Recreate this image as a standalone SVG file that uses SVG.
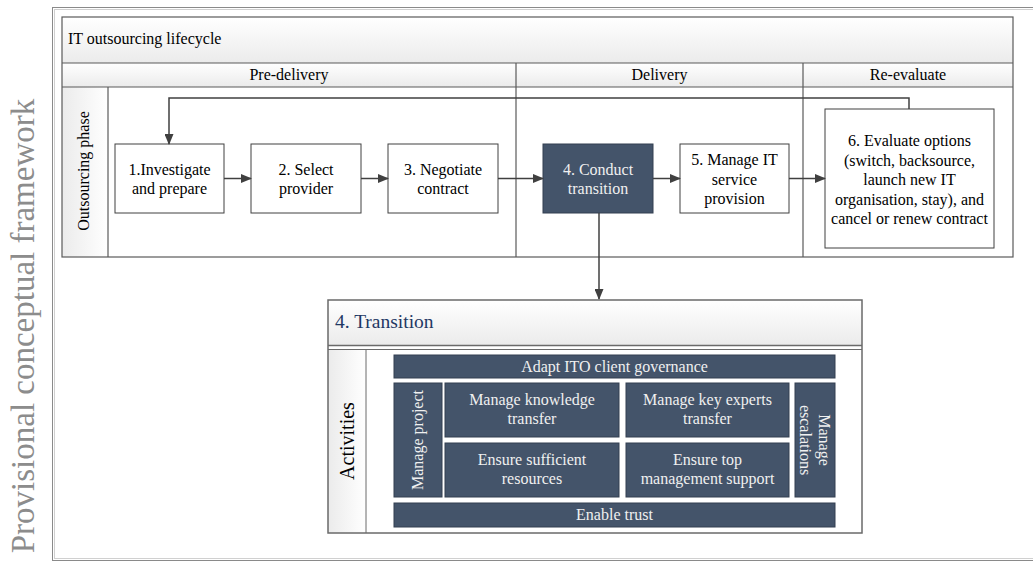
<svg xmlns="http://www.w3.org/2000/svg" width="1033" height="562" viewBox="0 0 1033 562">
<defs>
<linearGradient id="hg" x1="0" y1="0" x2="0" y2="1"><stop offset="0" stop-color="#ffffff"/><stop offset="1" stop-color="#ebebeb"/></linearGradient>
<linearGradient id="vg" x1="0" y1="0" x2="1" y2="0"><stop offset="0" stop-color="#ebebeb"/><stop offset="1" stop-color="#ffffff"/></linearGradient>
<marker id="ah" markerUnits="userSpaceOnUse" markerWidth="11" markerHeight="9" refX="10" refY="4.5" orient="auto"><path d="M0,0 L11,4.5 L0,9 z" fill="#404040"/></marker>
<style>
.t{font-family:"Liberation Serif","Times New Roman",serif;font-size:16px;fill:#000}
.c{text-anchor:middle}
.w{fill:#f0f0f0}
.box{fill:#fff;stroke:#404040;stroke-width:1}
.dk{fill:#44546a;stroke:#333f50;stroke-width:1}
.ln{fill:none;stroke:#5a5a5a;stroke-width:1.2}
.cn{fill:none;stroke:#404040;stroke-width:1.5}
</style>
</defs>
<rect width="1033" height="562" fill="#fff"/>
<g id="frame">
<rect x="52.5" y="7.5" width="1000" height="553" fill="none" stroke="#8a8a8a" stroke-width="1"/>
<rect x="54.5" y="9.5" width="1000" height="549" fill="none" stroke="#d0d0d0" stroke-width="1"/>
<text transform="translate(34,326) rotate(-90)" style="font-family:'Liberation Serif','Times New Roman',serif;font-size:33px;fill:#8c8c8c;text-anchor:middle">Provisional conceptual framework</text>
</g>
<g id="lifecycle">
<rect x="62" y="17" width="951" height="46" fill="url(#hg)"/>
<rect x="62" y="63" width="951" height="24" fill="url(#hg)"/>
<rect x="62" y="87" width="46" height="170" fill="url(#vg)"/>
<rect x="62" y="17" width="951" height="240" class="ln"/>
<line x1="62" y1="63" x2="1013" y2="63" class="ln"/>
<line x1="62" y1="87" x2="1013" y2="87" class="ln"/>
<line x1="108" y1="87" x2="108" y2="257" class="ln"/>
<line x1="516" y1="63" x2="516" y2="257" class="ln"/>
<line x1="803" y1="63" x2="803" y2="257" class="ln"/>
<text class="t" x="68" y="44">IT outsourcing lifecycle</text>
<text class="t c" x="289" y="80">Pre-delivery</text>
<text class="t c" x="659.5" y="80">Delivery</text>
<text class="t c" x="908" y="80">Re-evaluate</text>
<text class="t c" transform="translate(89,171) rotate(-90)">Outsourcing phase</text>
</g>
<g id="n1"><rect x="115" y="144" width="109" height="69" class="box"/><text class="t c" x="169.5" y="174.5">1.Investigate</text><text class="t c" x="169.5" y="193.5">and prepare</text></g>
<g id="n2"><rect x="251" y="144" width="110" height="69" class="box"/><text class="t c" x="306" y="174.5">2. Select</text><text class="t c" x="306" y="193.5">provider</text></g>
<g id="n3"><rect x="388" y="144" width="110" height="69" class="box"/><text class="t c" x="443" y="174.5">3. Negotiate</text><text class="t c" x="443" y="193.5">contract</text></g>
<g id="n4"><rect x="543" y="144" width="110" height="69" class="dk"/><text class="t c w" x="598" y="174.5">4. Conduct</text><text class="t c w" x="598" y="193.5">transition</text></g>
<g id="n5"><rect x="680" y="144" width="109" height="69" class="box"/><text class="t c" x="734.5" y="165">5. Manage IT</text><text class="t c" x="734.5" y="184.5">service</text><text class="t c" x="734.5" y="204">provision</text></g>
<g id="n6"><rect x="825" y="109" width="169" height="139" class="box"/><text class="t c" x="909.5" y="146">6. Evaluate options</text><text class="t c" x="909.5" y="165.5">(switch, backsource,</text><text class="t c" x="909.5" y="185">launch new IT</text><text class="t c" x="909.5" y="204.5">organisation, stay), and</text><text class="t c" x="909.5" y="224">cancel or renew contract</text></g>
<g id="connectors">
<line x1="224" y1="178.5" x2="251" y2="178.5" class="cn" marker-end="url(#ah)"/>
<line x1="361" y1="178.5" x2="388" y2="178.5" class="cn" marker-end="url(#ah)"/>
<line x1="498" y1="178.5" x2="543" y2="178.5" class="cn" marker-end="url(#ah)"/>
<line x1="653" y1="178.5" x2="680" y2="178.5" class="cn" marker-end="url(#ah)"/>
<line x1="789" y1="178.5" x2="825" y2="178.5" class="cn" marker-end="url(#ah)"/>
<path d="M909,109 V98 H169 V144" class="cn" marker-end="url(#ah)"/>
<line x1="599" y1="213" x2="599" y2="299" class="cn" marker-end="url(#ah)"/>
</g>
<g id="transition">
<rect x="328" y="300" width="534" height="45.5" fill="url(#hg)"/>
<rect x="328" y="349.5" width="38" height="183.5" fill="url(#vg)"/>
<rect x="328" y="300" width="534" height="233" fill="none" stroke="#6a6a6a" stroke-width="1.5"/>
<line x1="328" y1="345.5" x2="862" y2="345.5" stroke="#6a6a6a" stroke-width="1.5"/>
<line x1="328" y1="349.5" x2="862" y2="349.5" stroke="#6a6a6a" stroke-width="1"/>
<line x1="366" y1="349.5" x2="366" y2="533" stroke="#6a6a6a" stroke-width="1"/>
<text x="335" y="328" style="font-family:'Liberation Serif','Times New Roman',serif;font-size:19.5px;fill:#1f3864">4. Transition</text>
<text class="t c" transform="translate(354,441) rotate(-90)" style="font-size:20px">Activities</text>
</g>
<g id="a-governance"><rect x="394" y="355" width="441" height="23" class="dk"/><text class="t c w" x="614.5" y="371.5">Adapt ITO client governance</text></g>
<g id="a-project"><rect x="394" y="383" width="48" height="114" class="dk"/><text class="t c w" transform="translate(423,440) rotate(-90)">Manage project</text></g>
<g id="a-knowledge"><rect x="445" y="383" width="174" height="54" class="dk"/><text class="t c w" x="532" y="405">Manage knowledge</text><text class="t c w" x="532" y="424">transfer</text></g>
<g id="a-resources"><rect x="445" y="443" width="174" height="54" class="dk"/><text class="t c w" x="532" y="465">Ensure sufficient</text><text class="t c w" x="532" y="484">resources</text></g>
<g id="a-experts"><rect x="626" y="383" width="163" height="54" class="dk"/><text class="t c w" x="707.5" y="405">Manage key experts</text><text class="t c w" x="707.5" y="424">transfer</text></g>
<g id="a-support"><rect x="626" y="443" width="163" height="54" class="dk"/><text class="t c w" x="707.5" y="465">Ensure top</text><text class="t c w" x="707.5" y="484">management support</text></g>
<g id="a-escalations"><rect x="795" y="383" width="40" height="114" class="dk"/><text class="t c w" transform="translate(819,440) rotate(90)">Manage</text><text class="t c w" transform="translate(800,440) rotate(90)">escalations</text></g>
<g id="a-trust"><rect x="394" y="503" width="441" height="24" class="dk"/><text class="t c w" x="614.5" y="520">Enable trust</text></g>
</svg>
